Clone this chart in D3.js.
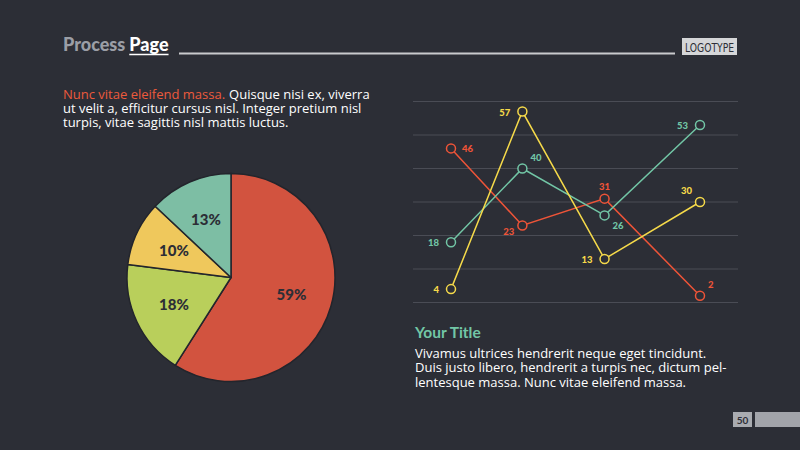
<!DOCTYPE html>
<html>
<head>
<meta charset="utf-8">
<script src="https://cdn.jsdelivr.net/npm/d3@7"></script>
<style>
  body { margin: 0; background: #2c2e36; }
  svg { display: block; }
</style>
</head>
<body>
<div id="chart"></div>
<script>
// pie data
const pieLabels = ["59%", "18%", "10%", "13%"];
const pieValues = [59, 18, 10, 13];
const pieColors = ["#d2533f", "#b9cf5b", "#efc85c", "#7dbea4"];

// line chart data
const stepPos = [0, 0.86, 1.85, 3]; // x position of the four steps
const seriesNames = ["orange", "teal", "yellow"];
const orangeValues = [46, 23, 31, 2];
const tealValues = [18, 40, 26, 53];
const yellowValues = [4, 57, 13, 30];
const lineColors = ["#ee5438", "#72c6a6", "#f6da4a"];
const yTicks = [0, 10, 20, 30, 40, 50, 60];

// where each value label sits relative to its point
const orangePlace = ["r", "bl", "t", "tr"];
const tealPlace = ["l", "tr", "br", "l"];
const yellowPlace = ["l", "l", "l", "tl"];

const width = 800, height = 450;
const bg = "#2c2e36";
const bodyFont = "'Open Sans', Lato, sans-serif";
const boldFont = "Lato, 'Open Sans', sans-serif";

const svg = d3.select("#chart")
  .append("svg")
  .attr("width", width)
  .attr("height", height);

svg.append("rect").attr("width", width).attr("height", height).attr("fill", bg);

// header
const proc = svg.append("text")
  .attr("x", 63).attr("y", 51)
  .attr("fill", "#9b9ea6")
  .style("font-family", boldFont)
  .style("font-weight", 900)
  .style("font-size", "18px")
  .text("Process");
const procW = proc.node().getComputedTextLength();
const page = svg.append("text")
  .attr("x", 63 + procW + 4).attr("y", 51)
  .attr("fill", "#ffffff")
  .style("font-family", boldFont)
  .style("font-weight", 900)
  .style("font-size", "18px")
  .text("Page");
const pageW = page.node().getComputedTextLength();
svg.append("line")
  .attr("x1", 63 + procW + 4).attr("x2", 63 + procW + 4 + pageW)
  .attr("y1", 54.5).attr("y2", 54.5)
  .attr("stroke", "#ffffff").attr("stroke-width", 1.5);
svg.append("line")
  .attr("x1", 179).attr("x2", 675).attr("y1", 53.5).attr("y2", 53.5)
  .attr("stroke", "#c9cacd").attr("stroke-width", 2);

svg.append("rect")
  .attr("x", 682).attr("y", 38).attr("width", 55).attr("height", 17)
  .attr("fill", "#d5d6d8");
svg.append("text")
  .attr("x", 685).attr("y", 51.5)
  .attr("fill", "#2c2e36")
  .attr("textLength", 49)
  .attr("lengthAdjust", "spacingAndGlyphs")
  .style("font-family", "'DejaVu Sans Condensed', 'DejaVu Sans', sans-serif")
  .style("font-stretch", "condensed")
  .style("font-size", "13px")
  .text("LOGOTYPE");

// intro paragraph
const lead = svg.append("text")
  .attr("x", 63).attr("y", 99)
  .attr("fill", "#ec5a3c")
  .style("font-family", bodyFont)
  .style("font-size", "13px")
  .text("Nunc vitae eleifend massa.");
const leadW = lead.node().getComputedTextLength();
svg.append("text")
  .attr("x", 63 + leadW + 4).attr("y", 99)
  .attr("fill", "#ffffff")
  .style("font-family", bodyFont)
  .style("font-size", "13px")
  .text("Quisque nisi ex, viverra");
["ut velit a, efficitur cursus nisl. Integer pretium nisl",
 "turpis, vitae sagittis nisl mattis luctus."].forEach((t, i) => {
  svg.append("text")
    .attr("x", 63).attr("y", 113 + i * 14)
    .attr("fill", "#ffffff")
    .style("font-family", bodyFont)
    .style("font-size", "13px")
    .text(t);
});

// pie
const radius = 104;
const pieG = svg.append("g").attr("transform", "translate(231,277.5)");
const pie = d3.pie().sort(null).value(d => d);
const arc = d3.arc().innerRadius(0).outerRadius(radius);
const labelArc = d3.arc().innerRadius(63).outerRadius(63);
const arcs = pie(pieValues);

pieG.selectAll("path")
  .data(arcs)
  .enter()
  .append("path")
  .attr("d", arc)
  .attr("fill", (d, i) => pieColors[i])
  .attr("stroke", "#23252c")
  .attr("stroke-width", 1.5)
  .attr("stroke-linejoin", "round");

pieG.selectAll("text")
  .data(arcs)
  .enter()
  .append("text")
  .attr("transform", d => `translate(${labelArc.centroid(d)})`)
  .attr("text-anchor", "middle")
  .attr("dy", "0.35em")
  .attr("fill", "#2c2e36")
  .style("font-family", boldFont)
  .style("font-weight", 900)
  .style("font-size", "15px")
  .text((d, i) => pieLabels[i]);

// line chart
const x = d3.scaleLinear().domain([0, 3]).range([451, 700]);
const y = d3.scaleLinear().domain([0, 60]).range([302.5, 101.5]);

svg.append("g")
  .selectAll("line")
  .data(yTicks)
  .enter()
  .append("line")
  .attr("x1", 413).attr("x2", 738)
  .attr("y1", d => y(d)).attr("y2", d => y(d))
  .attr("stroke", "#4a4c55")
  .attr("stroke-width", 1);

const series = [orangeValues, tealValues, yellowValues];
const places = [orangePlace, tealPlace, yellowPlace];
const line = d3.line().x((d, i) => x(stepPos[i])).y(d => y(d));

const offsets = {
  l: [-12, 4, "end"], r: [11, 4, "start"], t: [0, -9, "middle"],
  tr: [8, -8, "start"], tl: [-8, -8, "end"],
  bl: [-8, 10, "end"], br: [8, 14, "start"]
};

series.forEach((vals, s) => {
  const g = svg.append("g").attr("class", seriesNames[s]);
  g.append("path")
    .datum(vals)
    .attr("d", line)
    .attr("fill", "none")
    .attr("stroke", lineColors[s])
    .attr("stroke-width", 1.5);
  g.selectAll("circle")
    .data(vals)
    .enter()
    .append("circle")
    .attr("cx", (d, i) => x(stepPos[i]))
    .attr("cy", d => y(d))
    .attr("r", 4.5)
    .attr("fill", bg)
    .attr("stroke", lineColors[s])
    .attr("stroke-width", 1.5);
  g.selectAll("text")
    .data(vals)
    .enter()
    .append("text")
    .attr("x", (d, i) => x(stepPos[i]) + offsets[places[s][i]][0])
    .attr("y", (d, i) => y(d) + offsets[places[s][i]][1])
    .attr("text-anchor", (d, i) => offsets[places[s][i]][2])
    .attr("fill", lineColors[s])
    .style("font-family", boldFont)
    .style("font-weight", 900)
    .style("font-size", "9.5px")
    .text(d => d);
});

// right text block
svg.append("text")
  .attr("x", 415).attr("y", 338)
  .attr("fill", "#72c6a6")
  .style("font-family", boldFont)
  .style("font-weight", 700)
  .style("font-size", "15.5px")
  .text("Your Title");

["Vivamus ultrices hendrerit neque eget tincidunt.",
 "Duis justo libero, hendrerit a turpis nec, dictum pel-",
 "lentesque massa. Nunc vitae eleifend massa."].forEach((t, i) => {
  svg.append("text")
    .attr("x", 415).attr("y", 358 + i * 14.3)
    .attr("fill", "#ffffff")
    .style("font-family", bodyFont)
    .style("font-size", "13px")
    .text(t);
});

// page number
svg.append("rect")
  .attr("x", 733).attr("y", 412).attr("width", 19).attr("height", 15)
  .attr("fill", "#a9abb0");
svg.append("text")
  .attr("x", 742.5).attr("y", 423.5)
  .attr("text-anchor", "middle")
  .attr("fill", "#2c2e36")
  .style("font-family", boldFont)
  .style("font-weight", 700)
  .style("font-size", "10px")
  .text("50");
svg.append("rect")
  .attr("x", 755).attr("y", 412).attr("width", 45).attr("height", 15)
  .attr("fill", "#a2a4aa");
</script>
</body>
</html>
